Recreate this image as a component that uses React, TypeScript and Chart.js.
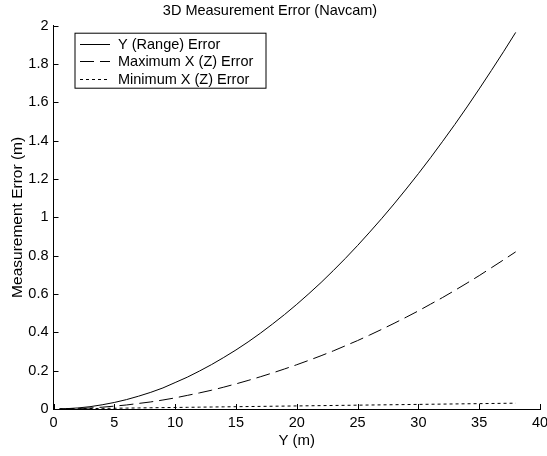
import React, { useEffect, useRef } from "react";
import { Chart, registerables } from "chart.js";

Chart.register(...registerables);

const titleText = "3D Measurement Error (Navcam)";
const xTitle = "Y (m)";
const yTitle = "Measurement Error (m)";

const distance = [0.5, 1, 2, 3, 4, 5, 6, 7, 8, 9, 10, 11, 12, 13, 14, 15, 16, 17, 18, 19, 20, 21, 22, 23, 24, 25, 26, 27, 28, 29, 30, 31, 32, 33, 34, 35, 36, 37, 38];

const rangeError = [0.0003, 0.0014, 0.0055, 0.012, 0.022, 0.034, 0.049, 0.067, 0.087, 0.11, 0.138, 0.166, 0.198, 0.232, 0.269, 0.308, 0.35, 0.395, 0.443, 0.493, 0.546, 0.602, 0.66, 0.722, 0.786, 0.853, 0.923, 0.995, 1.07, 1.148, 1.228, 1.311, 1.397, 1.485, 1.576, 1.67, 1.766, 1.864, 1.965];

const maxXError = [0.0001, 0.0006, 0.0024, 0.0053, 0.0094, 0.015, 0.021, 0.029, 0.037, 0.047, 0.058, 0.071, 0.084, 0.098, 0.114, 0.131, 0.149, 0.168, 0.188, 0.209, 0.231, 0.254, 0.278, 0.303, 0.33, 0.357, 0.386, 0.416, 0.447, 0.479, 0.512, 0.547, 0.582, 0.619, 0.657, 0.696, 0.737, 0.778, 0.82];

const minXError = [0.0004, 0.0008, 0.0016, 0.0024, 0.0032, 0.004, 0.0048, 0.0056, 0.0064, 0.0072, 0.008, 0.0088, 0.0096, 0.0104, 0.0112, 0.012, 0.0128, 0.0136, 0.0144, 0.0152, 0.016, 0.0168, 0.0176, 0.0184, 0.0192, 0.02, 0.0208, 0.0216, 0.0224, 0.0232, 0.024, 0.0248, 0.0256, 0.0264, 0.0272, 0.028, 0.0288, 0.0296, 0.0304];

const seriesLabels = ["Y (Range) Error", "Maximum X (Z) Error", "Minimum X (Z) Error"];
const seriesValues = [rangeError, maxXError, minXError];
const seriesDash = [[], [14, 6], [3, 3]];

const FONT = "'Liberation Sans', Arial, Helvetica, sans-serif";

const overlayPlugin = {
  id: "overlay",
  afterDraw(chart: any) {
    const { ctx, chartArea, scales } = chart;
    const xs = scales.x;
    const ys = scales.y;
    ctx.save();
    ctx.strokeStyle = "#000";
    ctx.lineWidth = 1;
    ctx.setLineDash([]);
    ctx.beginPath();
    xs.ticks.forEach((t: any) => {
      const px = Math.round(xs.getPixelForValue(t.value)) + 0.5;
      ctx.moveTo(px, chartArea.bottom);
      ctx.lineTo(px, chartArea.bottom - 5);
    });
    ys.ticks.forEach((t: any) => {
      const py = Math.round(ys.getPixelForValue(t.value)) + 0.5;
      ctx.moveTo(chartArea.left, py);
      ctx.lineTo(chartArea.left + 5, py);
    });
    ctx.stroke();

    // legend box
    const bx = chartArea.left + 21.5;
    const by = chartArea.top + 7.5;
    const bw = 191;
    const bh = 55;
    ctx.fillStyle = "#fff";
    ctx.fillRect(bx, by, bw, bh);
    ctx.strokeRect(bx, by, bw, bh);
    ctx.font = "14.5px " + FONT;
    ctx.textBaseline = "middle";
    ctx.textAlign = "left";
    chart.data.datasets.forEach((ds: any, i: number) => {
      const ry = Math.round(by + 10.5 + i * 17.5) + 0.5;
      ctx.beginPath();
      ctx.setLineDash(ds.borderDash || []);
      ctx.moveTo(bx + 5, ry);
      ctx.lineTo(bx + 35, ry);
      ctx.stroke();
      ctx.fillStyle = "#000";
      ctx.fillText(ds.label, bx + 43, ry);
    });
    ctx.restore();
  },
};

export default function App() {
  const ref = useRef<HTMLCanvasElement>(null);
  useEffect(() => {
    if (!ref.current) return;
    Chart.defaults.font.family = FONT;
    Chart.defaults.color = "#000";
    const chart = new Chart(ref.current, {
      type: "line",
      data: {
        datasets: seriesLabels.map((label, i) => ({
          label,
          data: distance.map((d, j) => ({ x: d, y: seriesValues[i][j] })),
          borderColor: "#000",
          borderWidth: 1,
          borderDash: seriesDash[i],
          pointRadius: 0,
          fill: false,
          tension: 0,
        })),
      },
      options: {
        animation: false,
        responsive: false,
        layout: { padding: { left: 0, right: 7, top: 0, bottom: 0 } },
        plugins: {
          legend: { display: false },
          tooltip: { enabled: false },
          title: {
            display: true,
            text: titleText,
            color: "#000",
            font: { size: 14.5, weight: "normal", family: FONT },
            padding: { top: 2.3, bottom: 6 },
          },
        },
        scales: {
          x: {
            type: "linear",
            min: 0,
            max: 40,
            ticks: { stepSize: 5, padding: 5, font: { size: 14.5 }, color: "#000", maxRotation: 0 },
            grid: { display: true, drawOnChartArea: false, drawTicks: false },
            border: { display: true, color: "#000", width: 1 },
            title: { display: true, text: xTitle, font: { size: 15 }, color: "#000", padding: { top: 0, bottom: 6 } },
            afterFit(scale: any) {
              scale.height = 47;
              scale.paddingRight = 7;
            },
          },
          y: {
            type: "linear",
            min: 0,
            max: 2,
            ticks: {
              stepSize: 0.2,
              padding: 5,
              font: { size: 14.5 },
              color: "#000",
              callback: (v: any) => String(Math.round(Number(v) * 10) / 10),
            },
            grid: { display: true, drawOnChartArea: false, drawTicks: false },
            border: { display: true, color: "#000", width: 1 },
            title: { display: true, text: yTitle, font: { size: 15.5 }, color: "#000", padding: { top: 8, bottom: 0 } },
            afterFit(scale: any) {
              scale.width = 53.5;
            },
          },
        },
      },
      plugins: [overlayPlugin],
    });
    return () => chart.destroy();
  }, []);
  return (
    <div style={{ position: "fixed", left: 0, top: 0, width: 547, height: 456, background: "#fff" }}>
      <canvas ref={ref} width={547} height={456} />
    </div>
  );
}
